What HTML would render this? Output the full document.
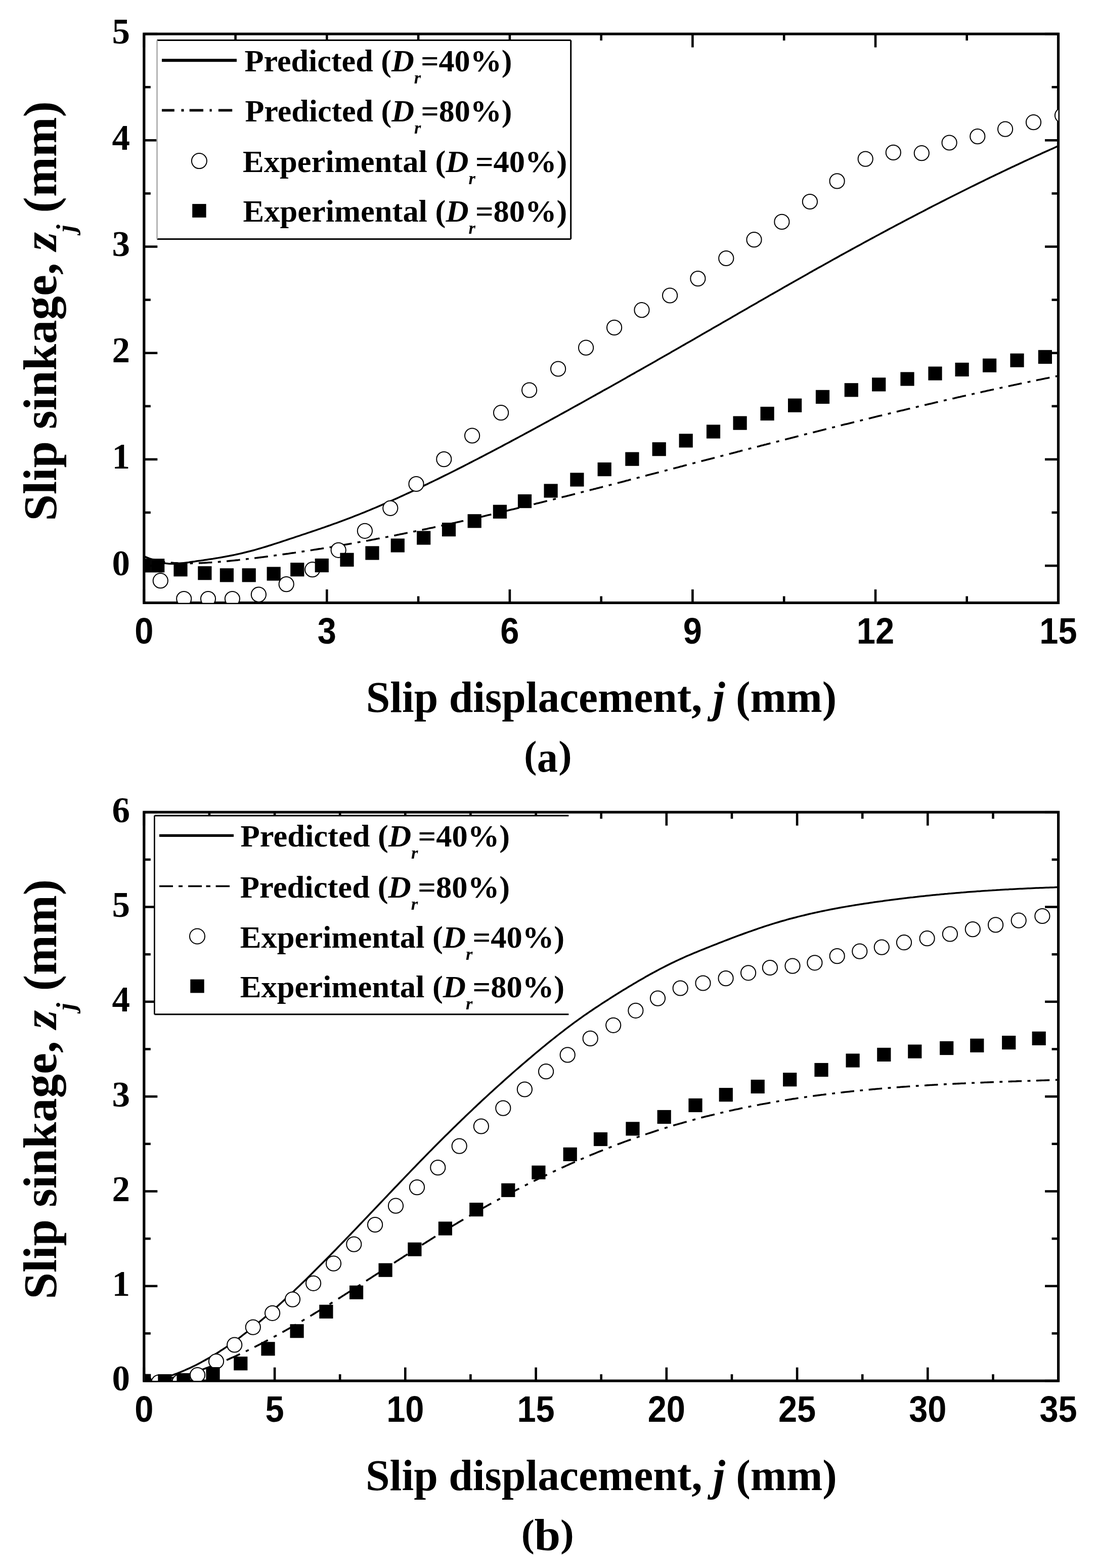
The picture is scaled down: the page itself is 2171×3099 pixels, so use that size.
<!DOCTYPE html><html><head><meta charset="utf-8"><title>Slip sinkage vs slip displacement</title><style>html,body{margin:0;padding:0;background:#fff;overflow:hidden;}svg{display:block;}</style></head><body>
<svg width="2171" height="3099" viewBox="0 0 2171 3099">
<rect width="2171" height="3099" fill="#fff"/>
<g stroke="#000" stroke-width="4.6"><line x1="284.8" y1="1191.4" x2="284.8" y2="1164.9"/><line x1="284.8" y1="67.1" x2="284.8" y2="93.6"/><line x1="646.3" y1="1191.4" x2="646.3" y2="1164.9"/><line x1="646.3" y1="67.1" x2="646.3" y2="93.6"/><line x1="1007.9" y1="1191.4" x2="1007.9" y2="1164.9"/><line x1="1007.9" y1="67.1" x2="1007.9" y2="93.6"/><line x1="1369.4" y1="1191.4" x2="1369.4" y2="1164.9"/><line x1="1369.4" y1="67.1" x2="1369.4" y2="93.6"/><line x1="1731" y1="1191.4" x2="1731" y2="1164.9"/><line x1="1731" y1="67.1" x2="1731" y2="93.6"/><line x1="2092.5" y1="1191.4" x2="2092.5" y2="1164.9"/><line x1="2092.5" y1="67.1" x2="2092.5" y2="93.6"/><line x1="465.6" y1="1191.4" x2="465.6" y2="1178.4"/><line x1="465.6" y1="67.1" x2="465.6" y2="80.1"/><line x1="827.1" y1="1191.4" x2="827.1" y2="1178.4"/><line x1="827.1" y1="67.1" x2="827.1" y2="80.1"/><line x1="1188.7" y1="1191.4" x2="1188.7" y2="1178.4"/><line x1="1188.7" y1="67.1" x2="1188.7" y2="80.1"/><line x1="1550.2" y1="1191.4" x2="1550.2" y2="1178.4"/><line x1="1550.2" y1="67.1" x2="1550.2" y2="80.1"/><line x1="1911.7" y1="1191.4" x2="1911.7" y2="1178.4"/><line x1="1911.7" y1="67.1" x2="1911.7" y2="80.1"/><line x1="284.8" y1="1118.1" x2="311.3" y2="1118.1"/><line x1="2092.5" y1="1118.1" x2="2066" y2="1118.1"/><line x1="284.8" y1="907.9" x2="311.3" y2="907.9"/><line x1="2092.5" y1="907.9" x2="2066" y2="907.9"/><line x1="284.8" y1="697.7" x2="311.3" y2="697.7"/><line x1="2092.5" y1="697.7" x2="2066" y2="697.7"/><line x1="284.8" y1="487.5" x2="311.3" y2="487.5"/><line x1="2092.5" y1="487.5" x2="2066" y2="487.5"/><line x1="284.8" y1="277.3" x2="311.3" y2="277.3"/><line x1="2092.5" y1="277.3" x2="2066" y2="277.3"/><line x1="284.8" y1="67.1" x2="311.3" y2="67.1"/><line x1="2092.5" y1="67.1" x2="2066" y2="67.1"/><line x1="284.8" y1="1013" x2="297.8" y2="1013"/><line x1="2092.5" y1="1013" x2="2079.5" y2="1013"/><line x1="284.8" y1="802.8" x2="297.8" y2="802.8"/><line x1="2092.5" y1="802.8" x2="2079.5" y2="802.8"/><line x1="284.8" y1="592.6" x2="297.8" y2="592.6"/><line x1="2092.5" y1="592.6" x2="2079.5" y2="592.6"/><line x1="284.8" y1="382.4" x2="297.8" y2="382.4"/><line x1="2092.5" y1="382.4" x2="2079.5" y2="382.4"/><line x1="284.8" y1="172.2" x2="297.8" y2="172.2"/><line x1="2092.5" y1="172.2" x2="2079.5" y2="172.2"/></g>
<rect x="284.8" y="67.1" width="1807.7" height="1124.3" fill="none" stroke="#000" stroke-width="5.2"/>
<clipPath id="ca"><rect x="284.8" y="67.1" width="1807.7" height="1124.3"/></clipPath><g clip-path="url(#ca)"><path d="M284.8,1099.4 L288.8,1101.2 L292.8,1102.9 L296.8,1104.5 L300.8,1106.1 L304.8,1107.6 L308.8,1108.9 L312.8,1110.2 L316.8,1111.3 L320.8,1112.3 L324.8,1113.1 L328.8,1113.6 L332.8,1114 L336.8,1114.3 L340.8,1114.3 L344.8,1114.3 L348.8,1114.1 L352.8,1113.8 L356.8,1113.4 L360.8,1112.9 L364.8,1112.4 L368.8,1111.9 L372.8,1111.4 L376.8,1110.8 L380.8,1110.2 L384.8,1109.7 L388.8,1109.1 L392.8,1108.5 L396.8,1108 L400.8,1107.4 L404.8,1106.8 L408.8,1106.2 L412.8,1105.6 L416.8,1105 L420.8,1104.4 L424.8,1103.7 L428.8,1103.1 L432.8,1102.4 L436.8,1101.7 L440.8,1101 L444.8,1100.3 L448.8,1099.5 L452.8,1098.8 L456.8,1098 L460.8,1097.2 L464.8,1096.4 L468.8,1095.5 L472.8,1094.6 L476.8,1093.7 L480.8,1092.8 L484.8,1091.8 L488.8,1090.8 L492.8,1089.8 L496.8,1088.8 L500.8,1087.7 L504.8,1086.6 L508.8,1085.4 L512.8,1084.3 L516.8,1083.1 L520.8,1081.9 L524.8,1080.7 L528.8,1079.5 L532.8,1078.2 L536.8,1077 L540.8,1075.7 L544.8,1074.4 L548.8,1073.1 L552.8,1071.8 L556.8,1070.5 L560.8,1069.2 L564.8,1067.9 L568.8,1066.5 L572.8,1065.2 L576.8,1063.9 L580.8,1062.6 L584.8,1061.2 L588.8,1059.9 L592.8,1058.6 L596.8,1057.2 L600.8,1055.9 L604.8,1054.6 L608.8,1053.2 L612.8,1051.9 L616.8,1050.5 L620.8,1049.2 L624.8,1047.8 L628.8,1046.4 L632.8,1045.1 L636.8,1043.7 L640.8,1042.3 L644.8,1040.9 L648.8,1039.5 L652.8,1038.1 L656.8,1036.6 L660.8,1035.2 L664.8,1033.8 L668.8,1032.3 L672.8,1030.8 L676.8,1029.4 L680.8,1027.9 L684.8,1026.4 L688.8,1024.9 L692.8,1023.3 L696.8,1021.8 L700.8,1020.2 L704.8,1018.7 L708.8,1017.1 L712.8,1015.5 L716.8,1013.9 L720.8,1012.3 L724.8,1010.6 L728.8,1009 L732.8,1007.3 L736.8,1005.7 L740.8,1004 L744.8,1002.3 L748.8,1000.6 L752.8,998.9 L756.8,997.2 L760.8,995.4 L764.8,993.7 L768.8,991.9 L772.8,990.1 L776.8,988.4 L780.8,986.6 L784.8,984.8 L788.8,983 L792.8,981.2 L796.8,979.3 L800.8,977.5 L804.8,975.7 L808.8,973.8 L812.8,972 L816.8,970.1 L820.8,968.2 L824.8,966.3 L828.8,964.4 L832.8,962.5 L836.8,960.6 L840.8,958.7 L844.8,956.8 L848.8,954.8 L852.8,952.9 L856.8,951 L860.8,949 L864.8,947.1 L868.8,945.1 L872.8,943.1 L876.8,941.1 L880.8,939.2 L884.8,937.2 L888.8,935.2 L892.8,933.2 L896.8,931.2 L900.8,929.2 L904.8,927.1 L908.8,925.1 L912.8,923.1 L916.8,921.1 L920.8,919 L924.8,917 L928.8,914.9 L932.8,912.9 L936.8,910.8 L940.8,908.8 L944.8,906.7 L948.8,904.6 L952.8,902.6 L956.8,900.5 L960.8,898.4 L964.8,896.3 L968.8,894.2 L972.8,892.1 L976.8,890 L980.8,887.9 L984.8,885.8 L988.8,883.7 L992.8,881.6 L996.8,879.4 L1000.8,877.3 L1004.8,875.2 L1008.8,873.1 L1012.8,870.9 L1016.8,868.8 L1020.8,866.6 L1024.8,864.5 L1028.8,862.3 L1032.8,860.2 L1036.8,858 L1040.8,855.9 L1044.8,853.7 L1048.8,851.6 L1052.8,849.4 L1056.8,847.2 L1060.8,845 L1064.8,842.9 L1068.8,840.7 L1072.8,838.5 L1076.8,836.3 L1080.8,834.1 L1084.8,832 L1088.8,829.8 L1092.8,827.6 L1096.8,825.4 L1100.8,823.2 L1104.8,821 L1108.8,818.8 L1112.8,816.6 L1116.8,814.4 L1120.8,812.2 L1124.8,810 L1128.8,807.7 L1132.8,805.5 L1136.8,803.3 L1140.8,801.1 L1144.8,798.9 L1148.8,796.7 L1152.8,794.4 L1156.8,792.2 L1160.8,790 L1164.8,787.8 L1168.8,785.5 L1172.8,783.3 L1176.8,781.1 L1180.8,778.8 L1184.8,776.6 L1188.8,774.4 L1192.8,772.1 L1196.8,769.9 L1200.8,767.7 L1204.8,765.4 L1208.8,763.2 L1212.8,760.9 L1216.8,758.7 L1220.8,756.4 L1224.8,754.2 L1228.8,751.9 L1232.8,749.7 L1236.8,747.4 L1240.8,745.1 L1244.8,742.9 L1248.8,740.6 L1252.8,738.4 L1256.8,736.1 L1260.8,733.8 L1264.8,731.6 L1268.8,729.3 L1272.8,727 L1276.8,724.8 L1280.8,722.5 L1284.8,720.2 L1288.8,717.9 L1292.8,715.7 L1296.8,713.4 L1300.8,711.1 L1304.8,708.8 L1308.8,706.5 L1312.8,704.3 L1316.8,702 L1320.8,699.7 L1324.8,697.4 L1328.8,695.1 L1332.8,692.8 L1336.8,690.5 L1340.8,688.2 L1344.8,685.9 L1348.8,683.6 L1352.8,681.4 L1356.8,679.1 L1360.8,676.8 L1364.8,674.5 L1368.8,672.2 L1372.8,669.9 L1376.8,667.6 L1380.8,665.3 L1384.8,663 L1388.8,660.6 L1392.8,658.3 L1396.8,656 L1400.8,653.7 L1404.8,651.4 L1408.8,649.1 L1412.8,646.8 L1416.8,644.5 L1420.8,642.2 L1424.8,639.9 L1428.8,637.6 L1432.8,635.3 L1436.8,633 L1440.8,630.7 L1444.8,628.4 L1448.8,626.1 L1452.8,623.7 L1456.8,621.4 L1460.8,619.1 L1464.8,616.8 L1468.8,614.5 L1472.8,612.2 L1476.8,609.9 L1480.8,607.6 L1484.8,605.3 L1488.8,603 L1492.8,600.7 L1496.8,598.4 L1500.8,596.1 L1504.8,593.8 L1508.8,591.5 L1512.8,589.2 L1516.8,586.9 L1520.8,584.6 L1524.8,582.3 L1528.8,580.1 L1532.8,577.8 L1536.8,575.5 L1540.8,573.2 L1544.8,570.9 L1548.8,568.6 L1552.8,566.3 L1556.8,564.1 L1560.8,561.8 L1564.8,559.5 L1568.8,557.2 L1572.8,555 L1576.8,552.7 L1580.8,550.4 L1584.8,548.2 L1588.8,545.9 L1592.8,543.7 L1596.8,541.4 L1600.8,539.1 L1604.8,536.9 L1608.8,534.6 L1612.8,532.4 L1616.8,530.1 L1620.8,527.9 L1624.8,525.7 L1628.8,523.4 L1632.8,521.2 L1636.8,519 L1640.8,516.7 L1644.8,514.5 L1648.8,512.3 L1652.8,510.1 L1656.8,507.9 L1660.8,505.6 L1664.8,503.4 L1668.8,501.2 L1672.8,499 L1676.8,496.8 L1680.8,494.6 L1684.8,492.4 L1688.8,490.2 L1692.8,488 L1696.8,485.9 L1700.8,483.7 L1704.8,481.5 L1708.8,479.3 L1712.8,477.1 L1716.8,475 L1720.8,472.8 L1724.8,470.6 L1728.8,468.5 L1732.8,466.3 L1736.8,464.2 L1740.8,462 L1744.8,459.9 L1748.8,457.7 L1752.8,455.6 L1756.8,453.4 L1760.8,451.3 L1764.8,449.2 L1768.8,447 L1772.8,444.9 L1776.8,442.8 L1780.8,440.7 L1784.8,438.6 L1788.8,436.5 L1792.8,434.4 L1796.8,432.3 L1800.8,430.2 L1804.8,428.1 L1808.8,426 L1812.8,423.9 L1816.8,421.8 L1820.8,419.7 L1824.8,417.7 L1828.8,415.6 L1832.8,413.5 L1836.8,411.4 L1840.8,409.4 L1844.8,407.3 L1848.8,405.3 L1852.8,403.2 L1856.8,401.2 L1860.8,399.1 L1864.8,397.1 L1868.8,395.1 L1872.8,393 L1876.8,391 L1880.8,389 L1884.8,387 L1888.8,385 L1892.8,383 L1896.8,381 L1900.8,379 L1904.8,377 L1908.8,375 L1912.8,373 L1916.8,371 L1920.8,369 L1924.8,367.1 L1928.8,365.1 L1932.8,363.1 L1936.8,361.2 L1940.8,359.2 L1944.8,357.3 L1948.8,355.3 L1952.8,353.4 L1956.8,351.4 L1960.8,349.5 L1964.8,347.6 L1968.8,345.7 L1972.8,343.7 L1976.8,341.8 L1980.8,339.9 L1984.8,338 L1988.8,336.1 L1992.8,334.2 L1996.8,332.3 L2000.8,330.4 L2004.8,328.6 L2008.8,326.7 L2012.8,324.8 L2016.8,322.9 L2020.8,321.1 L2024.8,319.2 L2028.8,317.4 L2032.8,315.5 L2036.8,313.7 L2040.8,311.8 L2044.8,310 L2048.8,308.2 L2052.8,306.4 L2056.8,304.6 L2060.8,302.7 L2064.8,300.9 L2068.8,299.1 L2072.8,297.3 L2076.8,295.5 L2080.8,293.8 L2084.8,292 L2088.8,290.2 L2092.5,288.6" fill="none" stroke="#000" stroke-width="3.5" stroke-linejoin="round"/><path d="M284.8,1100.2 L287.5,1101.2 L290.2,1102.1 L292.9,1103 L295.5,1103.9 L298.2,1104.7 L300.9,1105.4 L303.6,1106.1 L306.3,1106.8 L308.9,1107.4M320.4,1109.7 L323.3,1110.2 L326.2,1110.6M337.7,1112 L340.6,1112.3 L343.5,1112.6 L346.5,1112.8 L349.4,1112.9 L352.4,1113.1 L355.3,1113.2 L358.3,1113.3 L361.2,1113.4 L364.2,1113.4M375.6,1113.4 L378.5,1113.4 L381.4,1113.3M392.9,1112.9 L395.8,1112.8 L398.7,1112.7 L401.7,1112.5 L404.6,1112.4 L407.6,1112.2 L410.5,1112 L413.5,1111.8 L416.4,1111.7 L419.4,1111.5M430.8,1110.6 L433.7,1110.4 L436.6,1110.1M448.1,1109.1 L451,1108.9 L453.9,1108.6 L456.9,1108.3 L459.8,1108 L462.8,1107.7 L465.7,1107.4 L468.7,1107.1 L471.6,1106.8 L474.6,1106.4M486,1105.1 L488.9,1104.8 L491.8,1104.5M503.2,1103.1 L506.2,1102.7 L509.1,1102.4 L512.1,1102 L515,1101.6 L518,1101.2 L520.9,1100.9 L523.9,1100.5 L526.8,1100.1 L529.8,1099.7M541.2,1098.2 L544.1,1097.8 L547,1097.4M558.5,1095.8 L561.4,1095.4 L564.3,1095 L567.3,1094.6 L570.2,1094.2 L573.2,1093.7 L576.1,1093.3 L579.1,1092.9 L582,1092.5 L585,1092M596.4,1090.3 L599.3,1089.9 L602.2,1089.5M613.7,1087.7 L616.6,1087.2 L619.5,1086.8 L622.5,1086.3 L625.4,1085.9 L628.4,1085.4 L631.3,1084.9 L634.3,1084.5 L637.2,1084 L640.2,1083.5M651.6,1081.6 L654.5,1081.2 L657.4,1080.7M668.9,1078.8 L671.8,1078.3 L674.7,1077.8 L677.7,1077.2 L680.6,1076.7 L683.6,1076.2 L686.5,1075.7 L689.5,1075.2 L692.4,1074.7 L695.4,1074.2M706.8,1072.1 L709.7,1071.6 L712.6,1071.1M724.1,1069 L727,1068.5 L729.9,1067.9 L732.9,1067.4 L735.8,1066.8 L738.8,1066.3 L741.7,1065.7 L744.7,1065.1 L747.6,1064.6 L750.6,1064M762,1061.8 L764.9,1061.3 L767.8,1060.7M779.3,1058.5 L782.2,1057.9 L785.1,1057.3 L788.1,1056.7 L791,1056.1 L794,1055.5 L796.9,1054.9 L799.9,1054.3 L802.8,1053.7 L805.8,1053.1M817.2,1050.8 L820.1,1050.2 L823,1049.6M834.5,1047.2 L837.4,1046.6 L840.3,1046 L843.3,1045.4 L846.2,1044.7 L849.2,1044.1 L852.1,1043.5 L855.1,1042.9 L858,1042.2 L861,1041.6M872.4,1039.1 L875.3,1038.5 L878.2,1037.8M889.7,1035.3 L892.6,1034.7 L895.5,1034 L898.5,1033.4 L901.4,1032.7 L904.4,1032.1 L907.3,1031.4 L910.3,1030.8 L913.2,1030.1 L916.2,1029.4M927.6,1026.8 L930.5,1026.2 L933.4,1025.5M944.9,1022.9 L947.8,1022.2 L950.7,1021.5 L953.7,1020.9 L956.6,1020.2 L959.6,1019.5 L962.5,1018.8 L965.5,1018.1 L968.4,1017.4 L971.4,1016.7M982.8,1014 L985.7,1013.4 L988.6,1012.7M1000.1,1010 L1003,1009.3 L1005.9,1008.5 L1008.9,1007.8 L1011.8,1007.1 L1014.8,1006.4 L1017.7,1005.7 L1020.7,1005 L1023.6,1004.3 L1026.6,1003.6M1038,1000.8 L1040.9,1000.1 L1043.8,999.4M1055.2,996.6 L1058.2,995.9 L1061.1,995.1 L1064.1,994.4 L1067,993.7 L1070,993 L1072.9,992.2 L1075.9,991.5 L1078.8,990.8 L1081.8,990.1M1093.2,987.2 L1096.1,986.5 L1099,985.8M1110.5,982.9 L1113.4,982.1 L1116.3,981.4 L1119.3,980.7 L1122.2,979.9 L1125.2,979.2 L1128.1,978.4 L1131.1,977.7 L1134,976.9 L1137,976.2M1148.4,973.3 L1151.3,972.6 L1154.2,971.8M1165.7,968.9 L1168.6,968.1 L1171.5,967.4 L1174.5,966.6 L1177.4,965.9 L1180.4,965.1 L1183.3,964.4 L1186.3,963.6 L1189.2,962.9 L1192.2,962.1M1203.6,959.2 L1206.5,958.4 L1209.4,957.7M1220.9,954.7 L1223.8,953.9 L1226.7,953.2 L1229.7,952.4 L1232.6,951.7 L1235.6,950.9 L1238.5,950.1 L1241.5,949.4 L1244.4,948.6 L1247.4,947.8M1258.8,944.9 L1261.7,944.1 L1264.6,943.4M1276.1,940.4 L1279,939.6 L1281.9,938.8 L1284.9,938.1 L1287.8,937.3 L1290.8,936.5 L1293.7,935.8 L1296.7,935 L1299.6,934.2 L1302.6,933.5M1314,930.5 L1316.9,929.7 L1319.8,929M1331.3,926 L1334.2,925.2 L1337.1,924.4 L1340.1,923.7 L1343,922.9 L1346,922.1 L1348.9,921.4 L1351.9,920.6 L1354.8,919.8 L1357.8,919.1M1369.2,916.1 L1372.1,915.3 L1375,914.6M1386.5,911.6 L1389.4,910.8 L1392.3,910 L1395.3,909.3 L1398.2,908.5 L1401.2,907.7 L1404.1,907 L1407.1,906.2 L1410,905.4 L1413,904.7M1424.4,901.7 L1427.3,900.9 L1430.2,900.2M1441.7,897.2 L1444.6,896.5 L1447.5,895.7 L1450.5,894.9 L1453.4,894.2 L1456.4,893.4 L1459.3,892.6 L1462.3,891.9 L1465.2,891.1 L1468.2,890.3M1479.6,887.4 L1482.5,886.6 L1485.4,885.9M1496.9,882.9 L1499.8,882.2 L1502.7,881.4 L1505.7,880.6 L1508.6,879.9 L1511.6,879.1 L1514.5,878.4 L1517.5,877.6 L1520.4,876.9 L1523.4,876.1M1534.8,873.2 L1537.7,872.4 L1540.6,871.7M1552.1,868.7 L1555,868 L1557.9,867.2 L1560.9,866.5 L1563.8,865.7 L1566.8,865 L1569.7,864.2 L1572.7,863.5 L1575.6,862.7 L1578.6,862M1590,859.1 L1592.9,858.3 L1595.8,857.6M1607.3,854.7 L1610.2,853.9 L1613.1,853.2 L1616.1,852.5 L1619,851.7 L1622,851 L1624.9,850.2 L1627.9,849.5 L1630.8,848.7 L1633.8,848M1645.2,845.1 L1648.1,844.4 L1651,843.7M1662.5,840.8 L1665.4,840.1 L1668.3,839.3 L1671.3,838.6 L1674.2,837.9 L1677.2,837.2 L1680.1,836.4 L1683.1,835.7 L1686,835 L1689,834.2M1700.4,831.4 L1703.3,830.7 L1706.2,830M1717.7,827.2 L1720.6,826.4 L1723.5,825.7 L1726.5,825 L1729.4,824.3 L1732.4,823.6 L1735.3,822.8 L1738.3,822.1 L1741.2,821.4 L1744.2,820.7M1755.6,817.9 L1758.5,817.2 L1761.4,816.5M1772.9,813.7 L1775.8,813 L1778.7,812.3 L1781.7,811.6 L1784.6,810.9 L1787.6,810.2 L1790.5,809.5 L1793.5,808.8 L1796.4,808.1 L1799.4,807.4M1810.8,804.7 L1813.7,804 L1816.6,803.3M1828.1,800.6 L1831,799.9 L1833.9,799.2 L1836.9,798.6 L1839.8,797.9 L1842.8,797.2 L1845.7,796.5 L1848.7,795.8 L1851.6,795.1 L1854.6,794.4M1866,791.8 L1868.9,791.1 L1871.8,790.5M1883.3,787.8 L1886.2,787.2 L1889.1,786.5 L1892.1,785.8 L1895,785.1 L1898,784.5 L1900.9,783.8 L1903.9,783.1 L1906.8,782.5 L1909.8,781.8M1921.2,779.2 L1924.1,778.6 L1927,777.9M1938.5,775.4 L1941.4,774.7 L1944.3,774.1 L1947.3,773.4 L1950.2,772.8 L1953.2,772.1 L1956.1,771.5 L1959.1,770.8 L1962,770.2 L1965,769.5M1976.4,767 L1979.3,766.4 L1982.2,765.8M1993.7,763.3 L1996.6,762.7 L1999.5,762.1 L2002.5,761.4 L2005.4,760.8 L2008.4,760.2 L2011.3,759.6 L2014.3,758.9 L2017.2,758.3 L2020.2,757.7M2031.6,755.3 L2034.5,754.7 L2037.4,754.1M2048.8,751.7 L2051.8,751.1 L2054.7,750.5 L2057.7,749.9 L2060.6,749.3 L2063.6,748.7 L2066.5,748.1 L2069.5,747.5 L2072.4,746.9 L2075.3,746.3M2086.8,744 L2089.6,743.4 L2092.5,742.8" fill="none" stroke="#000" stroke-width="3.6"/><circle cx="317.3" cy="1147.7" r="14.6" fill="#fff" stroke="#000" stroke-width="2.0"/><circle cx="363.7" cy="1183.5" r="14.6" fill="#fff" stroke="#000" stroke-width="2.0"/><circle cx="411.5" cy="1183.5" r="14.6" fill="#fff" stroke="#000" stroke-width="2.0"/><circle cx="459.4" cy="1183.5" r="14.6" fill="#fff" stroke="#000" stroke-width="2.0"/><circle cx="511.4" cy="1175.1" r="14.6" fill="#fff" stroke="#000" stroke-width="2.0"/><circle cx="566.2" cy="1154.6" r="14.6" fill="#fff" stroke="#000" stroke-width="2.0"/><circle cx="617.7" cy="1125.7" r="14.6" fill="#fff" stroke="#000" stroke-width="2.0"/><circle cx="669.2" cy="1087.3" r="14.6" fill="#fff" stroke="#000" stroke-width="2.0"/><circle cx="721.4" cy="1049.3" r="14.6" fill="#fff" stroke="#000" stroke-width="2.0"/><circle cx="771.8" cy="1004.3" r="14.6" fill="#fff" stroke="#000" stroke-width="2.0"/><circle cx="823" cy="956.5" r="14.6" fill="#fff" stroke="#000" stroke-width="2.0"/><circle cx="877.8" cy="907.6" r="14.6" fill="#fff" stroke="#000" stroke-width="2.0"/><circle cx="933.6" cy="861" r="14.6" fill="#fff" stroke="#000" stroke-width="2.0"/><circle cx="990.6" cy="815.7" r="14.6" fill="#fff" stroke="#000" stroke-width="2.0"/><circle cx="1046.6" cy="771" r="14.6" fill="#fff" stroke="#000" stroke-width="2.0"/><circle cx="1103.6" cy="729" r="14.6" fill="#fff" stroke="#000" stroke-width="2.0"/><circle cx="1158.6" cy="687.2" r="14.6" fill="#fff" stroke="#000" stroke-width="2.0"/><circle cx="1214.6" cy="647.4" r="14.6" fill="#fff" stroke="#000" stroke-width="2.0"/><circle cx="1269" cy="612.7" r="14.6" fill="#fff" stroke="#000" stroke-width="2.0"/><circle cx="1324.6" cy="584" r="14.6" fill="#fff" stroke="#000" stroke-width="2.0"/><circle cx="1379.9" cy="550.6" r="14.6" fill="#fff" stroke="#000" stroke-width="2.0"/><circle cx="1435.8" cy="510.5" r="14.6" fill="#fff" stroke="#000" stroke-width="2.0"/><circle cx="1491" cy="473.7" r="14.6" fill="#fff" stroke="#000" stroke-width="2.0"/><circle cx="1545.9" cy="438.4" r="14.6" fill="#fff" stroke="#000" stroke-width="2.0"/><circle cx="1601.4" cy="398.5" r="14.6" fill="#fff" stroke="#000" stroke-width="2.0"/><circle cx="1655.1" cy="357.9" r="14.6" fill="#fff" stroke="#000" stroke-width="2.0"/><circle cx="1711.2" cy="314.1" r="14.6" fill="#fff" stroke="#000" stroke-width="2.0"/><circle cx="1766.3" cy="301.4" r="14.6" fill="#fff" stroke="#000" stroke-width="2.0"/><circle cx="1822.3" cy="302.7" r="14.6" fill="#fff" stroke="#000" stroke-width="2.0"/><circle cx="1877.1" cy="282" r="14.6" fill="#fff" stroke="#000" stroke-width="2.0"/><circle cx="1932.8" cy="269.6" r="14.6" fill="#fff" stroke="#000" stroke-width="2.0"/><circle cx="1987.6" cy="255.2" r="14.6" fill="#fff" stroke="#000" stroke-width="2.0"/><circle cx="2043.5" cy="241.7" r="14.6" fill="#fff" stroke="#000" stroke-width="2.0"/><circle cx="2100.5" cy="228" r="14.6" fill="#fff" stroke="#000" stroke-width="2.0"/><rect x="271.1" y="1104.2" width="27.2" height="27.2" fill="#000"/><rect x="298.1" y="1104.2" width="27.2" height="27.2" fill="#000"/><rect x="343.4" y="1112.1" width="27.2" height="27.2" fill="#000"/><rect x="391.3" y="1119.1" width="27.2" height="27.2" fill="#000"/><rect x="434.8" y="1123.2" width="27.2" height="27.2" fill="#000"/><rect x="478.6" y="1123.2" width="27.2" height="27.2" fill="#000"/><rect x="527.6" y="1120.4" width="27.2" height="27.2" fill="#000"/><rect x="574.2" y="1112.1" width="27.2" height="27.2" fill="#000"/><rect x="622.7" y="1103.9" width="27.2" height="27.2" fill="#000"/><rect x="672.4" y="1092.7" width="27.2" height="27.2" fill="#000"/><rect x="722.4" y="1079.4" width="27.2" height="27.2" fill="#000"/><rect x="772.7" y="1064.4" width="27.2" height="27.2" fill="#000"/><rect x="824.1" y="1049.4" width="27.2" height="27.2" fill="#000"/><rect x="873.9" y="1033" width="27.2" height="27.2" fill="#000"/><rect x="924.6" y="1016.2" width="27.2" height="27.2" fill="#000"/><rect x="974.8" y="997.7" width="27.2" height="27.2" fill="#000"/><rect x="1023.9" y="977" width="27.2" height="27.2" fill="#000"/><rect x="1075.5" y="956.4" width="27.2" height="27.2" fill="#000"/><rect x="1127.3" y="934.4" width="27.2" height="27.2" fill="#000"/><rect x="1181.6" y="914" width="27.2" height="27.2" fill="#000"/><rect x="1236.3" y="893.6" width="27.2" height="27.2" fill="#000"/><rect x="1289.6" y="874.1" width="27.2" height="27.2" fill="#000"/><rect x="1342.6" y="857.3" width="27.2" height="27.2" fill="#000"/><rect x="1396.9" y="839.4" width="27.2" height="27.2" fill="#000"/><rect x="1449.5" y="822.5" width="27.2" height="27.2" fill="#000"/><rect x="1503.5" y="803.9" width="27.2" height="27.2" fill="#000"/><rect x="1558" y="787.6" width="27.2" height="27.2" fill="#000"/><rect x="1612.9" y="770.8" width="27.2" height="27.2" fill="#000"/><rect x="1669.7" y="757.2" width="27.2" height="27.2" fill="#000"/><rect x="1724.1" y="746.3" width="27.2" height="27.2" fill="#000"/><rect x="1780.4" y="735.4" width="27.2" height="27.2" fill="#000"/><rect x="1835.4" y="724.5" width="27.2" height="27.2" fill="#000"/><rect x="1888.5" y="716.8" width="27.2" height="27.2" fill="#000"/><rect x="1943" y="708.6" width="27.2" height="27.2" fill="#000"/><rect x="1997.4" y="698.6" width="27.2" height="27.2" fill="#000"/><rect x="2052.8" y="691.8" width="27.2" height="27.2" fill="#000"/></g>
<rect x="310.5" y="79.5" width="818.2" height="392.9" fill="#fff"/><line x1="310.5" y1="79.5" x2="1128.7" y2="79.5" stroke="#000" stroke-width="3"/><line x1="310.5" y1="472.4" x2="1128.7" y2="472.4" stroke="#000" stroke-width="3"/><line x1="1128.7" y1="79.5" x2="1128.7" y2="472.4" stroke="#000" stroke-width="3"/><line x1="310.5" y1="79.5" x2="310.5" y2="472.4" stroke="#aaa" stroke-width="2.6"/>
<line x1="320" y1="119.2" x2="468" y2="119.2" stroke="#000" stroke-width="6"/>
<path d="M320,218H344.8M358.5,218H363.5M374.7,218H402M414.5,218H418.7M431.9,218H459.2" stroke="#000" stroke-width="4.8" fill="none"/>
<circle cx="393.9" cy="318.1" r="15" fill="#fff" stroke="#000" stroke-width="2.0"/>
<rect x="380.2" y="403.1" width="27.4" height="26.8" fill="#000"/>
<g transform="translate(483.59,140.70) scale(1.0102,1)"><text x="0" y="0" font-family="'Liberation Serif', 'Times New Roman', serif" font-weight="bold" font-size="61.5">Predicted (<tspan font-style="italic">D</tspan><tspan font-style="italic" font-size="34" dy="24.2">r</tspan><tspan dy="-24.2">=40%)</tspan></text></g>
<g transform="translate(484.39,239.90) scale(1.0085,1)"><text x="0" y="0" font-family="'Liberation Serif', 'Times New Roman', serif" font-weight="bold" font-size="61.5">Predicted (<tspan font-style="italic">D</tspan><tspan font-style="italic" font-size="34" dy="24.2">r</tspan><tspan dy="-24.2">=80%)</tspan></text></g>
<g transform="translate(480.08,339.80) scale(1.0169,1)"><text x="0" y="0" font-family="'Liberation Serif', 'Times New Roman', serif" font-weight="bold" font-size="61.5">Experimental (<tspan font-style="italic">D</tspan><tspan font-style="italic" font-size="34" dy="24.2">r</tspan><tspan dy="-24.2">=40%)</tspan></text></g>
<g transform="translate(480.58,437.80) scale(1.0161,1)"><text x="0" y="0" font-family="'Liberation Serif', 'Times New Roman', serif" font-weight="bold" font-size="61.5">Experimental (<tspan font-style="italic">D</tspan><tspan font-style="italic" font-size="34" dy="24.2">r</tspan><tspan dy="-24.2">=80%)</tspan></text></g>
<text x="257" y="1136.6" text-anchor="end" font-family="'Liberation Serif', 'Times New Roman', serif" font-weight="bold" font-size="71">0</text>
<text x="257" y="926.4" text-anchor="end" font-family="'Liberation Serif', 'Times New Roman', serif" font-weight="bold" font-size="71">1</text>
<text x="257" y="716.2" text-anchor="end" font-family="'Liberation Serif', 'Times New Roman', serif" font-weight="bold" font-size="71">2</text>
<text x="257" y="506" text-anchor="end" font-family="'Liberation Serif', 'Times New Roman', serif" font-weight="bold" font-size="71">3</text>
<text x="257" y="295.8" text-anchor="end" font-family="'Liberation Serif', 'Times New Roman', serif" font-weight="bold" font-size="71">4</text>
<text x="257" y="85.6" text-anchor="end" font-family="'Liberation Serif', 'Times New Roman', serif" font-weight="bold" font-size="71">5</text>
<g transform="translate(284.80,1272) scale(0.915,1)"><text x="0" y="0" text-anchor="middle" font-family="'Liberation Sans', Arial, sans-serif" font-weight="bold" font-size="73">0</text></g>
<g transform="translate(646.34,1272) scale(0.915,1)"><text x="0" y="0" text-anchor="middle" font-family="'Liberation Sans', Arial, sans-serif" font-weight="bold" font-size="73">3</text></g>
<g transform="translate(1007.88,1272) scale(0.915,1)"><text x="0" y="0" text-anchor="middle" font-family="'Liberation Sans', Arial, sans-serif" font-weight="bold" font-size="73">6</text></g>
<g transform="translate(1369.42,1272) scale(0.915,1)"><text x="0" y="0" text-anchor="middle" font-family="'Liberation Sans', Arial, sans-serif" font-weight="bold" font-size="73">9</text></g>
<g transform="translate(1730.96,1272) scale(0.915,1)"><text x="0" y="0" text-anchor="middle" font-family="'Liberation Sans', Arial, sans-serif" font-weight="bold" font-size="73">12</text></g>
<g transform="translate(2092.50,1272) scale(0.915,1)"><text x="0" y="0" text-anchor="middle" font-family="'Liberation Sans', Arial, sans-serif" font-weight="bold" font-size="73">15</text></g>
<g transform="translate(723.73,1406.50) scale(0.9939,1)"><text x="0" y="0" font-family="'Liberation Serif', 'Times New Roman', serif" font-weight="bold" font-size="86">Slip displacement, <tspan font-style="italic">j</tspan> (mm)</text></g>
<g transform="translate(110.50,1029.74) rotate(-90) scale(1.0072,1)"><text x="0" y="0" font-family="'Liberation Serif', 'Times New Roman', serif" font-weight="bold" font-size="94">Slip sinkage, <tspan font-style="italic">z</tspan><tspan font-style="italic" font-size="52" dy="37">j</tspan><tspan dy="-37"> (mm)</tspan></text></g>
<g transform="translate(1036.17,1517.40) scale(0.9429,0.9589)"><text x="0" y="0" font-family="'Liberation Serif', serif" font-weight="bold" font-size="80">(</text></g>
<g transform="translate(1061.81,1524.55) scale(1.0306,1.0462)"><text x="0" y="0" font-family="'Liberation Serif', serif" font-weight="bold" font-size="80">a</text></g>
<g transform="translate(1104.33,1517.40) scale(0.9900,0.9589)"><text x="0" y="0" font-family="'Liberation Serif', serif" font-weight="bold" font-size="80">)</text></g>
<g stroke="#000" stroke-width="4.6"><line x1="284.8" y1="2729.1" x2="284.8" y2="2702.6"/><line x1="284.8" y1="1605.2" x2="284.8" y2="1631.7"/><line x1="543.1" y1="2729.1" x2="543.1" y2="2702.6"/><line x1="543.1" y1="1605.2" x2="543.1" y2="1631.7"/><line x1="801.3" y1="2729.1" x2="801.3" y2="2702.6"/><line x1="801.3" y1="1605.2" x2="801.3" y2="1631.7"/><line x1="1059.6" y1="2729.1" x2="1059.6" y2="2702.6"/><line x1="1059.6" y1="1605.2" x2="1059.6" y2="1631.7"/><line x1="1317.8" y1="2729.1" x2="1317.8" y2="2702.6"/><line x1="1317.8" y1="1605.2" x2="1317.8" y2="1631.7"/><line x1="1576.1" y1="2729.1" x2="1576.1" y2="2702.6"/><line x1="1576.1" y1="1605.2" x2="1576.1" y2="1631.7"/><line x1="1834.3" y1="2729.1" x2="1834.3" y2="2702.6"/><line x1="1834.3" y1="1605.2" x2="1834.3" y2="1631.7"/><line x1="2092.6" y1="2729.1" x2="2092.6" y2="2702.6"/><line x1="2092.6" y1="1605.2" x2="2092.6" y2="1631.7"/><line x1="413.9" y1="2729.1" x2="413.9" y2="2716.1"/><line x1="413.9" y1="1605.2" x2="413.9" y2="1618.2"/><line x1="672.2" y1="2729.1" x2="672.2" y2="2716.1"/><line x1="672.2" y1="1605.2" x2="672.2" y2="1618.2"/><line x1="930.4" y1="2729.1" x2="930.4" y2="2716.1"/><line x1="930.4" y1="1605.2" x2="930.4" y2="1618.2"/><line x1="1188.7" y1="2729.1" x2="1188.7" y2="2716.1"/><line x1="1188.7" y1="1605.2" x2="1188.7" y2="1618.2"/><line x1="1447" y1="2729.1" x2="1447" y2="2716.1"/><line x1="1447" y1="1605.2" x2="1447" y2="1618.2"/><line x1="1705.2" y1="2729.1" x2="1705.2" y2="2716.1"/><line x1="1705.2" y1="1605.2" x2="1705.2" y2="1618.2"/><line x1="1963.5" y1="2729.1" x2="1963.5" y2="2716.1"/><line x1="1963.5" y1="1605.2" x2="1963.5" y2="1618.2"/><line x1="284.8" y1="2729.1" x2="311.3" y2="2729.1"/><line x1="2092.6" y1="2729.1" x2="2066.1" y2="2729.1"/><line x1="284.8" y1="2541.8" x2="311.3" y2="2541.8"/><line x1="2092.6" y1="2541.8" x2="2066.1" y2="2541.8"/><line x1="284.8" y1="2354.5" x2="311.3" y2="2354.5"/><line x1="2092.6" y1="2354.5" x2="2066.1" y2="2354.5"/><line x1="284.8" y1="2167.2" x2="311.3" y2="2167.2"/><line x1="2092.6" y1="2167.2" x2="2066.1" y2="2167.2"/><line x1="284.8" y1="1979.8" x2="311.3" y2="1979.8"/><line x1="2092.6" y1="1979.8" x2="2066.1" y2="1979.8"/><line x1="284.8" y1="1792.5" x2="311.3" y2="1792.5"/><line x1="2092.6" y1="1792.5" x2="2066.1" y2="1792.5"/><line x1="284.8" y1="1605.2" x2="311.3" y2="1605.2"/><line x1="2092.6" y1="1605.2" x2="2066.1" y2="1605.2"/><line x1="284.8" y1="2635.4" x2="297.8" y2="2635.4"/><line x1="2092.6" y1="2635.4" x2="2079.6" y2="2635.4"/><line x1="284.8" y1="2448.1" x2="297.8" y2="2448.1"/><line x1="2092.6" y1="2448.1" x2="2079.6" y2="2448.1"/><line x1="284.8" y1="2260.8" x2="297.8" y2="2260.8"/><line x1="2092.6" y1="2260.8" x2="2079.6" y2="2260.8"/><line x1="284.8" y1="2073.5" x2="297.8" y2="2073.5"/><line x1="2092.6" y1="2073.5" x2="2079.6" y2="2073.5"/><line x1="284.8" y1="1886.2" x2="297.8" y2="1886.2"/><line x1="2092.6" y1="1886.2" x2="2079.6" y2="1886.2"/><line x1="284.8" y1="1698.9" x2="297.8" y2="1698.9"/><line x1="2092.6" y1="1698.9" x2="2079.6" y2="1698.9"/></g>
<rect x="284.8" y="1605.2" width="1807.8" height="1123.9" fill="none" stroke="#000" stroke-width="5.2"/>
<clipPath id="cb"><rect x="284.8" y="1605.2" width="1807.8" height="1123.9"/></clipPath><g clip-path="url(#cb)"><path d="M284.8,2729.3 L288.8,2729.1 L292.8,2728.8 L296.8,2728.4 L300.8,2727.9 L304.8,2727.3 L308.8,2726.6 L312.8,2725.8 L316.8,2724.9 L320.8,2723.9 L324.8,2722.9 L328.8,2721.7 L332.8,2720.5 L336.8,2719.2 L340.8,2717.9 L344.8,2716.4 L348.8,2715 L352.8,2713.4 L356.8,2711.8 L360.8,2710.2 L364.8,2708.5 L368.8,2706.7 L372.8,2704.9 L376.8,2703.1 L380.8,2701.2 L384.8,2699.2 L388.8,2697.2 L392.8,2695.1 L396.8,2693 L400.8,2690.8 L404.8,2688.6 L408.8,2686.4 L412.8,2684.1 L416.8,2681.7 L420.8,2679.3 L424.8,2676.9 L428.8,2674.4 L432.8,2671.9 L436.8,2669.3 L440.8,2666.7 L444.8,2664.1 L448.8,2661.4 L452.8,2658.6 L456.8,2655.8 L460.8,2653 L464.8,2650.1 L468.8,2647.2 L472.8,2644.3 L476.8,2641.3 L480.8,2638.2 L484.8,2635.2 L488.8,2632.1 L492.8,2628.9 L496.8,2625.8 L500.8,2622.5 L504.8,2619.3 L508.8,2616 L512.8,2612.7 L516.8,2609.4 L520.8,2606 L524.8,2602.6 L528.8,2599.1 L532.8,2595.7 L536.8,2592.2 L540.8,2588.6 L544.8,2585.1 L548.8,2581.5 L552.8,2577.9 L556.8,2574.3 L560.8,2570.6 L564.8,2566.9 L568.8,2563.2 L572.8,2559.5 L576.8,2555.7 L580.8,2551.9 L584.8,2548.1 L588.8,2544.3 L592.8,2540.5 L596.8,2536.6 L600.8,2532.8 L604.8,2528.9 L608.8,2524.9 L612.8,2521 L616.8,2517.1 L620.8,2513.1 L624.8,2509.1 L628.8,2505.1 L632.8,2501.1 L636.8,2497.1 L640.8,2493.1 L644.8,2489 L648.8,2485 L652.8,2480.9 L656.8,2476.8 L660.8,2472.8 L664.8,2468.7 L668.8,2464.5 L672.8,2460.4 L676.8,2456.3 L680.8,2452.2 L684.8,2448 L688.8,2443.9 L692.8,2439.7 L696.8,2435.5 L700.8,2431.4 L704.8,2427.2 L708.8,2423 L712.8,2418.8 L716.8,2414.6 L720.8,2410.4 L724.8,2406.2 L728.8,2402 L732.8,2397.8 L736.8,2393.6 L740.8,2389.4 L744.8,2385.2 L748.8,2381 L752.8,2376.8 L756.8,2372.6 L760.8,2368.4 L764.8,2364.2 L768.8,2359.9 L772.8,2355.7 L776.8,2351.5 L780.8,2347.3 L784.8,2343.2 L788.8,2339 L792.8,2334.8 L796.8,2330.6 L800.8,2326.4 L804.8,2322.3 L808.8,2318.1 L812.8,2313.9 L816.8,2309.8 L820.8,2305.7 L824.8,2301.5 L828.8,2297.4 L832.8,2293.3 L836.8,2289.2 L840.8,2285.1 L844.8,2281 L848.8,2276.9 L852.8,2272.9 L856.8,2268.8 L860.8,2264.8 L864.8,2260.8 L868.8,2256.8 L872.8,2252.8 L876.8,2248.8 L880.8,2244.8 L884.8,2240.9 L888.8,2236.9 L892.8,2233 L896.8,2229.1 L900.8,2225.2 L904.8,2221.3 L908.8,2217.4 L912.8,2213.5 L916.8,2209.7 L920.8,2205.8 L924.8,2202 L928.8,2198.2 L932.8,2194.4 L936.8,2190.6 L940.8,2186.9 L944.8,2183.1 L948.8,2179.4 L952.8,2175.6 L956.8,2171.9 L960.8,2168.2 L964.8,2164.5 L968.8,2160.8 L972.8,2157.2 L976.8,2153.5 L980.8,2149.9 L984.8,2146.3 L988.8,2142.7 L992.8,2139.1 L996.8,2135.5 L1000.8,2131.9 L1004.8,2128.4 L1008.8,2124.9 L1012.8,2121.3 L1016.8,2117.8 L1020.8,2114.3 L1024.8,2110.9 L1028.8,2107.4 L1032.8,2103.9 L1036.8,2100.5 L1040.8,2097.1 L1044.8,2093.7 L1048.8,2090.3 L1052.8,2086.9 L1056.8,2083.5 L1060.8,2080.2 L1064.8,2076.9 L1068.8,2073.5 L1072.8,2070.2 L1076.8,2067 L1080.8,2063.7 L1084.8,2060.4 L1088.8,2057.2 L1092.8,2054 L1096.8,2050.8 L1100.8,2047.7 L1104.8,2044.5 L1108.8,2041.4 L1112.8,2038.3 L1116.8,2035.2 L1120.8,2032.2 L1124.8,2029.1 L1128.8,2026.1 L1132.8,2023.2 L1136.8,2020.2 L1140.8,2017.3 L1144.8,2014.4 L1148.8,2011.6 L1152.8,2008.7 L1156.8,2005.9 L1160.8,2003.2 L1164.8,2000.4 L1168.8,1997.7 L1172.8,1995 L1176.8,1992.3 L1180.8,1989.7 L1184.8,1987.1 L1188.8,1984.4 L1192.8,1981.8 L1196.8,1979.3 L1200.8,1976.7 L1204.8,1974.1 L1208.8,1971.6 L1212.8,1969.1 L1216.8,1966.5 L1220.8,1964 L1224.8,1961.5 L1228.8,1959.1 L1232.8,1956.6 L1236.8,1954.2 L1240.8,1951.7 L1244.8,1949.3 L1248.8,1946.9 L1252.8,1944.5 L1256.8,1942.2 L1260.8,1939.8 L1264.8,1937.5 L1268.8,1935.2 L1272.8,1932.9 L1276.8,1930.6 L1280.8,1928.4 L1284.8,1926.1 L1288.8,1923.9 L1292.8,1921.8 L1296.8,1919.6 L1300.8,1917.5 L1304.8,1915.3 L1308.8,1913.3 L1312.8,1911.2 L1316.8,1909.1 L1320.8,1907.1 L1324.8,1905.1 L1328.8,1903.2 L1332.8,1901.3 L1336.8,1899.3 L1340.8,1897.5 L1344.8,1895.6 L1348.8,1893.8 L1352.8,1892 L1356.8,1890.2 L1360.8,1888.5 L1364.8,1886.8 L1368.8,1885.1 L1372.8,1883.4 L1376.8,1881.8 L1380.8,1880.1 L1384.8,1878.5 L1388.8,1876.9 L1392.8,1875.3 L1396.8,1873.7 L1400.8,1872.1 L1404.8,1870.5 L1408.8,1868.9 L1412.8,1867.4 L1416.8,1865.8 L1420.8,1864.2 L1424.8,1862.6 L1428.8,1861.1 L1432.8,1859.5 L1436.8,1858 L1440.8,1856.5 L1444.8,1854.9 L1448.8,1853.4 L1452.8,1851.9 L1456.8,1850.4 L1460.8,1848.9 L1464.8,1847.5 L1468.8,1846 L1472.8,1844.5 L1476.8,1843.1 L1480.8,1841.7 L1484.8,1840.3 L1488.8,1838.8 L1492.8,1837.5 L1496.8,1836.1 L1500.8,1834.7 L1504.8,1833.4 L1508.8,1832 L1512.8,1830.7 L1516.8,1829.4 L1520.8,1828.2 L1524.8,1826.9 L1528.8,1825.6 L1532.8,1824.4 L1536.8,1823.2 L1540.8,1822 L1544.8,1820.8 L1548.8,1819.7 L1552.8,1818.6 L1556.8,1817.4 L1560.8,1816.3 L1564.8,1815.3 L1568.8,1814.2 L1572.8,1813.2 L1576.8,1812.1 L1580.8,1811.1 L1584.8,1810.1 L1588.8,1809.2 L1592.8,1808.2 L1596.8,1807.2 L1600.8,1806.3 L1604.8,1805.4 L1608.8,1804.5 L1612.8,1803.6 L1616.8,1802.7 L1620.8,1801.9 L1624.8,1801 L1628.8,1800.2 L1632.8,1799.4 L1636.8,1798.6 L1640.8,1797.8 L1644.8,1797 L1648.8,1796.3 L1652.8,1795.5 L1656.8,1794.8 L1660.8,1794 L1664.8,1793.3 L1668.8,1792.6 L1672.8,1791.9 L1676.8,1791.2 L1680.8,1790.6 L1684.8,1789.9 L1688.8,1789.2 L1692.8,1788.6 L1696.8,1787.9 L1700.8,1787.3 L1704.8,1786.7 L1708.8,1786.1 L1712.8,1785.5 L1716.8,1784.9 L1720.8,1784.3 L1724.8,1783.7 L1728.8,1783.1 L1732.8,1782.6 L1736.8,1782 L1740.8,1781.4 L1744.8,1780.9 L1748.8,1780.3 L1752.8,1779.8 L1756.8,1779.3 L1760.8,1778.7 L1764.8,1778.2 L1768.8,1777.7 L1772.8,1777.2 L1776.8,1776.7 L1780.8,1776.2 L1784.8,1775.7 L1788.8,1775.2 L1792.8,1774.8 L1796.8,1774.3 L1800.8,1773.8 L1804.8,1773.4 L1808.8,1772.9 L1812.8,1772.5 L1816.8,1772 L1820.8,1771.6 L1824.8,1771.2 L1828.8,1770.8 L1832.8,1770.3 L1836.8,1769.9 L1840.8,1769.5 L1844.8,1769.1 L1848.8,1768.7 L1852.8,1768.3 L1856.8,1768 L1860.8,1767.6 L1864.8,1767.2 L1868.8,1766.8 L1872.8,1766.5 L1876.8,1766.1 L1880.8,1765.8 L1884.8,1765.4 L1888.8,1765.1 L1892.8,1764.7 L1896.8,1764.4 L1900.8,1764.1 L1904.8,1763.8 L1908.8,1763.4 L1912.8,1763.1 L1916.8,1762.8 L1920.8,1762.5 L1924.8,1762.2 L1928.8,1761.9 L1932.8,1761.6 L1936.8,1761.4 L1940.8,1761.1 L1944.8,1760.8 L1948.8,1760.5 L1952.8,1760.3 L1956.8,1760 L1960.8,1759.8 L1964.8,1759.5 L1968.8,1759.3 L1972.8,1759 L1976.8,1758.8 L1980.8,1758.5 L1984.8,1758.3 L1988.8,1758.1 L1992.8,1757.9 L1996.8,1757.6 L2000.8,1757.4 L2004.8,1757.2 L2008.8,1757 L2012.8,1756.8 L2016.8,1756.6 L2020.8,1756.4 L2024.8,1756.2 L2028.8,1756 L2032.8,1755.8 L2036.8,1755.7 L2040.8,1755.5 L2044.8,1755.3 L2048.8,1755.1 L2052.8,1755 L2056.8,1754.8 L2060.8,1754.7 L2064.8,1754.5 L2068.8,1754.3 L2072.8,1754.2 L2076.8,1754 L2080.8,1753.9 L2084.8,1753.8 L2088.8,1753.6 L2092.6,1753.5" fill="none" stroke="#000" stroke-width="3.5" stroke-linejoin="round"/><path d="M284.8,2729.4 L287.5,2729.4 L290.2,2729.3 L292.8,2729.2 L295.5,2729.1 L298.2,2728.9 L300.9,2728.7 L303.5,2728.5 L306.2,2728.3 L308.9,2728M320.4,2726.7 L323.2,2726.2 L326.1,2725.8M337.6,2723.8 L340.5,2723.2 L343.5,2722.6 L346.4,2722 L349.4,2721.3 L352.3,2720.7 L355.3,2720 L358.2,2719.2 L361.2,2718.5 L364.1,2717.7M375.6,2714.5 L378.5,2713.7 L381.4,2712.8M392.8,2709.1 L395.7,2708.2 L398.7,2707.1 L401.6,2706.1 L404.6,2705.1 L407.5,2704 L410.5,2703 L413.4,2701.9 L416.4,2700.8 L419.3,2699.7M430.8,2695.2 L433.7,2694 L436.6,2692.8M448,2688 L450.9,2686.8 L453.9,2685.5 L456.8,2684.2 L459.8,2682.9 L462.7,2681.6 L465.7,2680.3 L468.6,2678.9 L471.6,2677.6 L474.5,2676.2M486,2670.8 L488.9,2669.4 L491.8,2668M503.2,2662.3 L506.1,2660.8 L509.1,2659.3 L512,2657.8 L515,2656.3 L517.9,2654.8 L520.9,2653.3 L523.8,2651.7 L526.8,2650.2 L529.7,2648.6M541.2,2642.5 L544.1,2640.9 L547,2639.3M558.4,2633 L561.3,2631.4 L564.3,2629.7 L567.2,2628 L570.2,2626.4 L573.1,2624.7 L576.1,2623 L579,2621.3 L582,2619.6 L584.9,2617.9M596.4,2611.2 L599.2,2609.5 L602.1,2607.8M613.6,2601 L616.5,2599.2 L619.5,2597.4 L622.4,2595.6 L625.4,2593.8 L628.3,2592 L631.3,2590.2 L634.2,2588.4 L637.2,2586.6 L640.1,2584.8M651.6,2577.7 L654.5,2575.9 L657.4,2574.1M668.8,2566.9 L671.7,2565.1 L674.7,2563.2 L677.6,2561.3 L680.6,2559.5 L683.5,2557.6 L686.5,2555.7 L689.4,2553.8 L692.4,2552 L695.3,2550.1M706.8,2542.7 L709.7,2540.9 L712.6,2539M724,2531.6 L726.9,2529.7 L729.9,2527.8 L732.8,2525.9 L735.8,2524 L738.7,2522.1 L741.7,2520.2 L744.6,2518.3 L747.6,2516.4 L750.5,2514.5M762,2507.1 L764.9,2505.2 L767.8,2503.3M779.2,2495.9 L782.1,2494 L785.1,2492.1 L788,2490.2 L791,2488.3 L793.9,2486.4 L796.9,2484.5 L799.8,2482.6 L802.8,2480.7 L805.7,2478.8M817.2,2471.5 L820.1,2469.6 L823,2467.8M834.4,2460.5 L837.3,2458.6 L840.3,2456.7 L843.2,2454.9 L846.2,2453 L849.1,2451.2 L852.1,2449.3 L855,2447.5 L858,2445.6 L860.9,2443.8M872.4,2436.7 L875.2,2434.9 L878.1,2433.1M889.6,2426.1 L892.5,2424.3 L895.5,2422.5 L898.4,2420.7 L901.4,2419 L904.3,2417.2 L907.3,2415.4 L910.2,2413.7 L913.2,2411.9 L916.1,2410.2M927.6,2403.5 L930.5,2401.8 L933.4,2400.1M944.8,2393.5 L947.7,2391.8 L950.7,2390.1 L953.6,2388.5 L956.6,2386.8 L959.5,2385.1 L962.5,2383.5 L965.4,2381.8 L968.4,2380.2 L971.3,2378.6M982.8,2372.3 L985.7,2370.7 L988.6,2369.1M1000,2363 L1002.9,2361.4 L1005.9,2359.8 L1008.8,2358.3 L1011.8,2356.7 L1014.7,2355.2 L1017.7,2353.6 L1020.6,2352.1 L1023.6,2350.6 L1026.5,2349M1037.9,2343.2 L1040.8,2341.7 L1043.8,2340.2M1055.2,2334.5 L1058.1,2333 L1061.1,2331.6 L1064,2330.1 L1067,2328.7 L1069.9,2327.3 L1072.9,2325.8 L1075.8,2324.4 L1078.8,2323 L1081.7,2321.6M1093.1,2316.2 L1096,2314.8 L1099,2313.5M1110.4,2308.2 L1113.3,2306.8 L1116.3,2305.5 L1119.2,2304.1 L1122.2,2302.8 L1125.1,2301.5 L1128.1,2300.2 L1131,2298.9 L1134,2297.6 L1136.9,2296.3M1148.3,2291.3 L1151.2,2290.1 L1154.2,2288.8M1165.6,2284 L1168.5,2282.7 L1171.5,2281.5 L1174.4,2280.3 L1177.4,2279.1 L1180.3,2277.9 L1183.3,2276.7 L1186.2,2275.5 L1189.2,2274.3 L1192.1,2273.1M1203.5,2268.6 L1206.5,2267.5 L1209.4,2266.3M1220.8,2261.9 L1223.7,2260.8 L1226.7,2259.7 L1229.6,2258.6 L1232.6,2257.5 L1235.5,2256.4 L1238.5,2255.4 L1241.4,2254.3 L1244.4,2253.2 L1247.3,2252.2M1258.8,2248.1 L1261.7,2247.1 L1264.6,2246.1M1276,2242.1 L1278.9,2241.1 L1281.9,2240.1 L1284.8,2239.2 L1287.8,2238.2 L1290.7,2237.2 L1293.7,2236.2 L1296.6,2235.3 L1299.6,2234.3 L1302.5,2233.4M1314,2229.8 L1316.9,2228.9 L1319.8,2228M1331.2,2224.5 L1334.1,2223.6 L1337.1,2222.8 L1340,2221.9 L1343,2221.1 L1345.9,2220.2 L1348.9,2219.4 L1351.8,2218.5 L1354.8,2217.7 L1357.7,2216.9M1369.2,2213.7 L1372.1,2212.9 L1375,2212.1M1386.4,2209.1 L1389.3,2208.3 L1392.3,2207.6 L1395.2,2206.8 L1398.2,2206.1 L1401.1,2205.4 L1404.1,2204.6 L1407,2203.9 L1410,2203.2 L1412.9,2202.4M1424.3,2199.7 L1427.2,2199 L1430.2,2198.4M1441.6,2195.7 L1444.5,2195.1 L1447.5,2194.4 L1450.4,2193.8 L1453.4,2193.1 L1456.3,2192.5 L1459.3,2191.9 L1462.2,2191.2 L1465.2,2190.6 L1468.1,2190M1479.5,2187.6 L1482.5,2187.1 L1485.4,2186.5M1496.8,2184.2 L1499.7,2183.7 L1502.7,2183.1 L1505.6,2182.6 L1508.6,2182 L1511.5,2181.5 L1514.5,2180.9 L1517.4,2180.4 L1520.4,2179.9 L1523.3,2179.3M1534.8,2177.3 L1537.7,2176.8 L1540.6,2176.3M1552,2174.4 L1554.9,2174 L1557.9,2173.5 L1560.8,2173 L1563.8,2172.6 L1566.7,2172.1 L1569.7,2171.6 L1572.6,2171.2 L1575.6,2170.7 L1578.5,2170.3M1590,2168.6 L1592.9,2168.2 L1595.8,2167.8M1607.2,2166.2 L1610.1,2165.8 L1613.1,2165.4 L1616,2165 L1619,2164.6 L1621.9,2164.2 L1624.9,2163.8 L1627.8,2163.5 L1630.8,2163.1 L1633.7,2162.7M1645.2,2161.3 L1648.1,2161 L1651,2160.6M1662.4,2159.3 L1665.3,2159 L1668.3,2158.6 L1671.2,2158.3 L1674.2,2158 L1677.1,2157.7 L1680.1,2157.4 L1683,2157 L1686,2156.7 L1688.9,2156.4M1700.3,2155.3 L1703.2,2155 L1706.2,2154.7M1717.6,2153.6 L1720.5,2153.4 L1723.5,2153.1 L1726.4,2152.8 L1729.4,2152.6 L1732.3,2152.3 L1735.3,2152 L1738.2,2151.8 L1741.2,2151.5 L1744.1,2151.3M1755.5,2150.3 L1758.5,2150.1 L1761.4,2149.9M1772.8,2149 L1775.7,2148.8 L1778.7,2148.6 L1781.6,2148.3 L1784.6,2148.1 L1787.5,2147.9 L1790.5,2147.7 L1793.4,2147.5 L1796.4,2147.3 L1799.3,2147.1M1810.8,2146.3 L1813.7,2146.1 L1816.6,2146M1828,2145.2 L1830.9,2145.1 L1833.9,2144.9 L1836.8,2144.7 L1839.8,2144.5 L1842.7,2144.4 L1845.7,2144.2 L1848.6,2144 L1851.6,2143.9 L1854.5,2143.7M1866,2143.1 L1868.9,2142.9 L1871.8,2142.8M1883.2,2142.2 L1886.1,2142 L1889.1,2141.9 L1892,2141.8 L1895,2141.6 L1897.9,2141.5 L1900.9,2141.3 L1903.8,2141.2 L1906.8,2141.1 L1909.7,2140.9M1921.2,2140.4 L1924.1,2140.3 L1927,2140.2M1938.4,2139.7 L1941.3,2139.6 L1944.3,2139.5 L1947.2,2139.3 L1950.2,2139.2 L1953.1,2139.1 L1956.1,2139 L1959,2138.9 L1962,2138.8 L1964.9,2138.6M1976.3,2138.2 L1979.2,2138.1 L1982.2,2138M1993.6,2137.6 L1996.5,2137.5 L1999.5,2137.4 L2002.4,2137.3 L2005.4,2137.2 L2008.3,2137.1 L2011.3,2136.9 L2014.2,2136.8 L2017.2,2136.7 L2020.1,2136.6M2031.5,2136.3 L2034.5,2136.2 L2037.4,2136.1M2048.8,2135.7 L2051.7,2135.6 L2054.7,2135.5 L2057.6,2135.4 L2060.6,2135.3 L2063.5,2135.2 L2066.5,2135.1 L2069.4,2135 L2072.4,2134.9 L2075.3,2134.8M2086.8,2134.4 L2089.7,2134.3 L2092.6,2134.2" fill="none" stroke="#000" stroke-width="3.6"/><circle cx="285" cy="2731" r="14.6" fill="#fff" stroke="#000" stroke-width="2.0"/><circle cx="314" cy="2732" r="14.6" fill="#fff" stroke="#000" stroke-width="2.0"/><circle cx="355" cy="2731" r="14.6" fill="#fff" stroke="#000" stroke-width="2.0"/><circle cx="390.5" cy="2717.5" r="14.6" fill="#fff" stroke="#000" stroke-width="2.0"/><circle cx="427.5" cy="2690.5" r="14.6" fill="#fff" stroke="#000" stroke-width="2.0"/><circle cx="463.7" cy="2658" r="14.6" fill="#fff" stroke="#000" stroke-width="2.0"/><circle cx="500.3" cy="2623.1" r="14.6" fill="#fff" stroke="#000" stroke-width="2.0"/><circle cx="538.6" cy="2595.3" r="14.6" fill="#fff" stroke="#000" stroke-width="2.0"/><circle cx="578.5" cy="2568.1" r="14.6" fill="#fff" stroke="#000" stroke-width="2.0"/><circle cx="619.6" cy="2536.3" r="14.6" fill="#fff" stroke="#000" stroke-width="2.0"/><circle cx="659.5" cy="2497.2" r="14.6" fill="#fff" stroke="#000" stroke-width="2.0"/><circle cx="699.8" cy="2459.1" r="14.6" fill="#fff" stroke="#000" stroke-width="2.0"/><circle cx="741.6" cy="2420.5" r="14.6" fill="#fff" stroke="#000" stroke-width="2.0"/><circle cx="782.5" cy="2383.2" r="14.6" fill="#fff" stroke="#000" stroke-width="2.0"/><circle cx="824.5" cy="2346.6" r="14.6" fill="#fff" stroke="#000" stroke-width="2.0"/><circle cx="865.8" cy="2307.6" r="14.6" fill="#fff" stroke="#000" stroke-width="2.0"/><circle cx="908.2" cy="2265.1" r="14.6" fill="#fff" stroke="#000" stroke-width="2.0"/><circle cx="951.4" cy="2226" r="14.6" fill="#fff" stroke="#000" stroke-width="2.0"/><circle cx="994.8" cy="2190.1" r="14.6" fill="#fff" stroke="#000" stroke-width="2.0"/><circle cx="1037.4" cy="2153" r="14.6" fill="#fff" stroke="#000" stroke-width="2.0"/><circle cx="1079.6" cy="2117.7" r="14.6" fill="#fff" stroke="#000" stroke-width="2.0"/><circle cx="1122.2" cy="2084.9" r="14.6" fill="#fff" stroke="#000" stroke-width="2.0"/><circle cx="1167.2" cy="2052.4" r="14.6" fill="#fff" stroke="#000" stroke-width="2.0"/><circle cx="1212.7" cy="2026.3" r="14.6" fill="#fff" stroke="#000" stroke-width="2.0"/><circle cx="1256.9" cy="1997.3" r="14.6" fill="#fff" stroke="#000" stroke-width="2.0"/><circle cx="1300.5" cy="1973.1" r="14.6" fill="#fff" stroke="#000" stroke-width="2.0"/><circle cx="1345.2" cy="1953" r="14.6" fill="#fff" stroke="#000" stroke-width="2.0"/><circle cx="1390" cy="1943" r="14.6" fill="#fff" stroke="#000" stroke-width="2.0"/><circle cx="1435.1" cy="1933.6" r="14.6" fill="#fff" stroke="#000" stroke-width="2.0"/><circle cx="1479.6" cy="1922.8" r="14.6" fill="#fff" stroke="#000" stroke-width="2.0"/><circle cx="1522.4" cy="1912.5" r="14.6" fill="#fff" stroke="#000" stroke-width="2.0"/><circle cx="1567" cy="1909.1" r="14.6" fill="#fff" stroke="#000" stroke-width="2.0"/><circle cx="1610.9" cy="1902.8" r="14.6" fill="#fff" stroke="#000" stroke-width="2.0"/><circle cx="1655.2" cy="1889.6" r="14.6" fill="#fff" stroke="#000" stroke-width="2.0"/><circle cx="1699.8" cy="1880.2" r="14.6" fill="#fff" stroke="#000" stroke-width="2.0"/><circle cx="1743.3" cy="1872.1" r="14.6" fill="#fff" stroke="#000" stroke-width="2.0"/><circle cx="1787.5" cy="1862.7" r="14.6" fill="#fff" stroke="#000" stroke-width="2.0"/><circle cx="1833.1" cy="1854.7" r="14.6" fill="#fff" stroke="#000" stroke-width="2.0"/><circle cx="1878.4" cy="1846" r="14.6" fill="#fff" stroke="#000" stroke-width="2.0"/><circle cx="1923.3" cy="1836.6" r="14.6" fill="#fff" stroke="#000" stroke-width="2.0"/><circle cx="1968.6" cy="1827.9" r="14.6" fill="#fff" stroke="#000" stroke-width="2.0"/><circle cx="2014.2" cy="1819.2" r="14.6" fill="#fff" stroke="#000" stroke-width="2.0"/><circle cx="2060.9" cy="1810.5" r="14.6" fill="#fff" stroke="#000" stroke-width="2.0"/><rect x="271.1" y="2715.6" width="27.2" height="27.2" fill="#000"/><rect x="312.3" y="2716" width="27.2" height="27.2" fill="#000"/><rect x="349.4" y="2713.9" width="27.2" height="27.2" fill="#000"/><rect x="407.4" y="2702" width="27.2" height="27.2" fill="#000"/><rect x="462.2" y="2681.2" width="27.2" height="27.2" fill="#000"/><rect x="516.4" y="2652.2" width="27.2" height="27.2" fill="#000"/><rect x="573.5" y="2617.1" width="27.2" height="27.2" fill="#000"/><rect x="631.3" y="2578.7" width="27.2" height="27.2" fill="#000"/><rect x="691" y="2540.7" width="27.2" height="27.2" fill="#000"/><rect x="748.5" y="2496.6" width="27.2" height="27.2" fill="#000"/><rect x="806.3" y="2455.6" width="27.2" height="27.2" fill="#000"/><rect x="866.8" y="2414.4" width="27.2" height="27.2" fill="#000"/><rect x="928.2" y="2377" width="27.2" height="27.2" fill="#000"/><rect x="991.2" y="2338.7" width="27.2" height="27.2" fill="#000"/><rect x="1051.3" y="2303.6" width="27.2" height="27.2" fill="#000"/><rect x="1113.6" y="2267.8" width="27.2" height="27.2" fill="#000"/><rect x="1173.9" y="2237.9" width="27.2" height="27.2" fill="#000"/><rect x="1237.4" y="2217.3" width="27.2" height="27.2" fill="#000"/><rect x="1299.6" y="2193.9" width="27.2" height="27.2" fill="#000"/><rect x="1361.4" y="2170.9" width="27.2" height="27.2" fill="#000"/><rect x="1421.7" y="2150.1" width="27.2" height="27.2" fill="#000"/><rect x="1484.6" y="2133.9" width="27.2" height="27.2" fill="#000"/><rect x="1548.1" y="2120.1" width="27.2" height="27.2" fill="#000"/><rect x="1610.4" y="2100.9" width="27.2" height="27.2" fill="#000"/><rect x="1672.5" y="2082.4" width="27.2" height="27.2" fill="#000"/><rect x="1734.2" y="2070.8" width="27.2" height="27.2" fill="#000"/><rect x="1795.2" y="2064.5" width="27.2" height="27.2" fill="#000"/><rect x="1858.1" y="2057.9" width="27.2" height="27.2" fill="#000"/><rect x="1918.2" y="2052.7" width="27.2" height="27.2" fill="#000"/><rect x="1981.1" y="2047" width="27.2" height="27.2" fill="#000"/><rect x="2040.6" y="2038.7" width="27.2" height="27.2" fill="#000"/></g>
<rect x="305.4" y="1611.9" width="819" height="392.8" fill="#fff"/><line x1="305.4" y1="1611.9" x2="1124.4" y2="1611.9" stroke="#000" stroke-width="3"/><line x1="305.4" y1="2004.7" x2="1124.4" y2="2004.7" stroke="#000" stroke-width="3"/><line x1="305.4" y1="1611.9" x2="305.4" y2="2004.7" stroke="#000" stroke-width="2.6"/>
<line x1="315" y1="1651.4" x2="462" y2="1651.4" stroke="#000" stroke-width="5.3"/>
<path d="M315,1751.5H342M353.1,1751.5H361M372.1,1751.5H399.1M407.5,1751.5H416M426.6,1751.5H454.1" stroke="#000" stroke-width="3.6" fill="none"/>
<circle cx="390" cy="1850.5" r="15" fill="#fff" stroke="#000" stroke-width="2.0"/>
<rect x="376.3" y="1935.6" width="27.4" height="26.8" fill="#000"/>
<g transform="translate(475.58,1673.00) scale(1.0171,1)"><text x="0" y="0" font-family="'Liberation Serif', 'Times New Roman', serif" font-weight="bold" font-size="61.5">Predicted (<tspan font-style="italic">D</tspan><tspan font-style="italic" font-size="34" dy="24.2">r</tspan><tspan dy="-24.2">=40%)</tspan></text></g>
<g transform="translate(474.68,1774.00) scale(1.0188,1)"><text x="0" y="0" font-family="'Liberation Serif', 'Times New Roman', serif" font-weight="bold" font-size="61.5">Predicted (<tspan font-style="italic">D</tspan><tspan font-style="italic" font-size="34" dy="24.2">r</tspan><tspan dy="-24.2">=80%)</tspan></text></g>
<g transform="translate(474.68,1872.50) scale(1.0169,1)"><text x="0" y="0" font-family="'Liberation Serif', 'Times New Roman', serif" font-weight="bold" font-size="61.5">Experimental (<tspan font-style="italic">D</tspan><tspan font-style="italic" font-size="34" dy="24.2">r</tspan><tspan dy="-24.2">=40%)</tspan></text></g>
<g transform="translate(474.68,1971.00) scale(1.0169,1)"><text x="0" y="0" font-family="'Liberation Serif', 'Times New Roman', serif" font-weight="bold" font-size="61.5">Experimental (<tspan font-style="italic">D</tspan><tspan font-style="italic" font-size="34" dy="24.2">r</tspan><tspan dy="-24.2">=80%)</tspan></text></g>
<text x="257" y="2748.4" text-anchor="end" font-family="'Liberation Serif', 'Times New Roman', serif" font-weight="bold" font-size="71">0</text>
<text x="257" y="2561.1" text-anchor="end" font-family="'Liberation Serif', 'Times New Roman', serif" font-weight="bold" font-size="71">1</text>
<text x="257" y="2373.8" text-anchor="end" font-family="'Liberation Serif', 'Times New Roman', serif" font-weight="bold" font-size="71">2</text>
<text x="257" y="2186.5" text-anchor="end" font-family="'Liberation Serif', 'Times New Roman', serif" font-weight="bold" font-size="71">3</text>
<text x="257" y="1999.1" text-anchor="end" font-family="'Liberation Serif', 'Times New Roman', serif" font-weight="bold" font-size="71">4</text>
<text x="257" y="1811.8" text-anchor="end" font-family="'Liberation Serif', 'Times New Roman', serif" font-weight="bold" font-size="71">5</text>
<text x="257" y="1624.5" text-anchor="end" font-family="'Liberation Serif', 'Times New Roman', serif" font-weight="bold" font-size="71">6</text>
<g transform="translate(284.80,2810) scale(0.915,1)"><text x="0" y="0" text-anchor="middle" font-family="'Liberation Sans', Arial, sans-serif" font-weight="bold" font-size="73">0</text></g>
<g transform="translate(543.06,2810) scale(0.915,1)"><text x="0" y="0" text-anchor="middle" font-family="'Liberation Sans', Arial, sans-serif" font-weight="bold" font-size="73">5</text></g>
<g transform="translate(801.31,2810) scale(0.915,1)"><text x="0" y="0" text-anchor="middle" font-family="'Liberation Sans', Arial, sans-serif" font-weight="bold" font-size="73">10</text></g>
<g transform="translate(1059.57,2810) scale(0.915,1)"><text x="0" y="0" text-anchor="middle" font-family="'Liberation Sans', Arial, sans-serif" font-weight="bold" font-size="73">15</text></g>
<g transform="translate(1317.83,2810) scale(0.915,1)"><text x="0" y="0" text-anchor="middle" font-family="'Liberation Sans', Arial, sans-serif" font-weight="bold" font-size="73">20</text></g>
<g transform="translate(1576.09,2810) scale(0.915,1)"><text x="0" y="0" text-anchor="middle" font-family="'Liberation Sans', Arial, sans-serif" font-weight="bold" font-size="73">25</text></g>
<g transform="translate(1834.34,2810) scale(0.915,1)"><text x="0" y="0" text-anchor="middle" font-family="'Liberation Sans', Arial, sans-serif" font-weight="bold" font-size="73">30</text></g>
<g transform="translate(2092.60,2810) scale(0.915,1)"><text x="0" y="0" text-anchor="middle" font-family="'Liberation Sans', Arial, sans-serif" font-weight="bold" font-size="73">35</text></g>
<g transform="translate(723.02,2945.00) scale(0.9952,1)"><text x="0" y="0" font-family="'Liberation Serif', 'Times New Roman', serif" font-weight="bold" font-size="86">Slip displacement, <tspan font-style="italic">j</tspan> (mm)</text></g>
<g transform="translate(110.50,2567.74) rotate(-90) scale(1.0075,1)"><text x="0" y="0" font-family="'Liberation Serif', 'Times New Roman', serif" font-weight="bold" font-size="94">Slip sinkage, <tspan font-style="italic">z</tspan><tspan font-style="italic" font-size="52" dy="37">j</tspan><tspan dy="-37"> (mm)</tspan></text></g>
<g transform="translate(1030.67,3055.71) scale(0.9762,0.9466)"><text x="0" y="0" font-family="'Liberation Serif', serif" font-weight="bold" font-size="80">(</text></g>
<g transform="translate(1056.44,3063.50) scale(1.1625,1.1035)"><text x="0" y="0" font-family="'Liberation Serif', serif" font-weight="bold" font-size="80">b</text></g>
<g transform="translate(1107.99,3055.71) scale(1.0050,0.9466)"><text x="0" y="0" font-family="'Liberation Serif', serif" font-weight="bold" font-size="80">)</text></g>
</svg></body></html>
